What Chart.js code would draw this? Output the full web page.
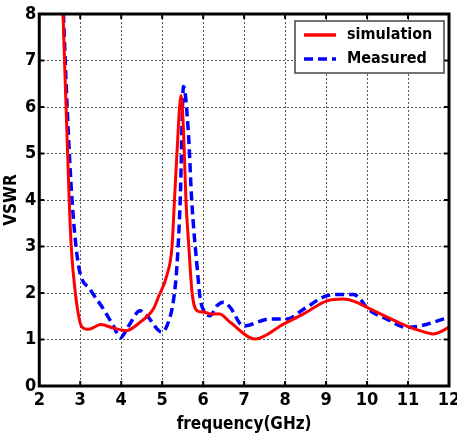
<!DOCTYPE html>
<html>
<head>
<meta charset="utf-8">
<script src="https://cdn.jsdelivr.net/npm/chart.js@4.4.1/dist/chart.umd.min.js"></script>
<style>
  html, body { margin: 0; padding: 0; background: #fff; }
  #wrap { width: 457px; height: 435px; }
</style>
</head>
<body>
<div id="wrap"><canvas id="vswrChart" width="457" height="435"></canvas></div>
<script>
// VSWR vs frequency
const simFreq = [2.58, 2.73, 2.78, 2.88, 3.04, 3.2, 3.5, 3.8, 4.12, 4.46, 4.78, 4.92, 5.11, 5.24, 5.3, 5.36, 5.46, 5.52, 5.58, 5.65, 5.73, 5.85, 6.0, 6.2, 6.4, 6.66, 7.27, 7.96, 8.45, 9.02, 9.42, 9.75, 10.0, 10.97, 11.29, 11.61, 11.85, 12.0];
const simVswr = [8.0, 4.0, 3.0, 2.0, 1.27, 1.22, 1.32, 1.25, 1.19, 1.37, 1.65, 1.94, 2.37, 3.0, 4.0, 5.0, 6.25, 5.5, 4.0, 3.0, 2.0, 1.62, 1.59, 1.55, 1.55, 1.37, 1.01, 1.33, 1.55, 1.83, 1.87, 1.8, 1.69, 1.29, 1.19, 1.12, 1.19, 1.27];

const measFreq = [2.59, 2.68, 2.8, 2.96, 3.24, 3.57, 3.81, 3.98, 4.18, 4.46, 4.63, 4.99, 5.15, 5.28, 5.36, 5.44, 5.52, 5.64, 5.72, 5.85, 5.93, 6.05, 6.17, 6.33, 6.5, 6.66, 6.98, 7.63, 8.04, 8.45, 9.02, 9.42, 9.67, 10.07, 10.48, 10.97, 11.29, 11.61, 12.0];
const measVswr = [8.0, 6.0, 4.0, 2.58, 2.08, 1.65, 1.29, 1.04, 1.29, 1.62, 1.51, 1.16, 1.37, 1.87, 2.58, 4.0, 6.44, 5.44, 4.0, 2.58, 1.87, 1.58, 1.51, 1.72, 1.8, 1.69, 1.29, 1.44, 1.44, 1.65, 1.94, 1.97, 1.97, 1.62, 1.44, 1.26, 1.29, 1.37, 1.48];

const xTicks = [2, 3, 4, 5, 6, 7, 8, 9, 10, 11, 12];
const yTicks = [0, 1, 2, 3, 4, 5, 6, 7, 8];

const toPoints = (xs, ys) => xs.map((x, i) => ({ x: x, y: ys[i] }));

const fontFamily = '"DejaVu Sans Condensed", "Liberation Sans", sans-serif';
const tickFont = { family: fontFamily, size: 18, weight: 'bold', lineHeight: 1.0 };
const titleFont = { family: fontFamily, size: 17, weight: 'bold', lineHeight: 1.0 };

// black frame, inward tick marks on all four sides, legend box top right
const framePlugin = {
    id: 'frame',
    afterDraw(chart) {
        const ctx = chart.ctx;
        const a = chart.chartArea;
        const xs = chart.scales.x, ys = chart.scales.y;
        ctx.save();
        ctx.strokeStyle = '#000';
        ctx.lineWidth = 2;
        ctx.beginPath();
        xTicks.forEach(v => {
            const px = xs.getPixelForValue(v);
            ctx.moveTo(px, a.bottom); ctx.lineTo(px, a.bottom - 5);
            ctx.moveTo(px, a.top); ctx.lineTo(px, a.top + 5);
        });
        yTicks.forEach(v => {
            const py = ys.getPixelForValue(v);
            ctx.moveTo(a.left, py); ctx.lineTo(a.left + 5, py);
            ctx.moveTo(a.right, py); ctx.lineTo(a.right - 5, py);
        });
        ctx.stroke();
        ctx.lineWidth = 3;
        ctx.strokeRect(a.left, a.top, a.right - a.left, a.bottom - a.top);

        // legend
        const bx = a.right - 154, by = a.top + 7, bw = 149, bh = 52;
        ctx.fillStyle = '#fff';
        ctx.fillRect(bx, by, bw, bh);
        ctx.lineWidth = 1.5;
        ctx.strokeStyle = '#444';
        ctx.strokeRect(bx, by, bw, bh);
        ctx.font = 'bold 16px ' + fontFamily;
        ctx.textBaseline = 'middle';
        chart.data.datasets.forEach((ds, i) => {
            const y = by + 14 + i * 24;
            ctx.strokeStyle = ds.borderColor;
            ctx.lineWidth = 3.5;
            ctx.setLineDash(ds.borderDash || []);
            ctx.beginPath();
            ctx.moveTo(bx + 9, y);
            ctx.lineTo(bx + 41, y);
            ctx.stroke();
            ctx.setLineDash([]);
            ctx.fillStyle = '#000';
            ctx.fillText(ds.label, bx + 52, y);
        });
        ctx.restore();
    }
};

const ctx = document.getElementById('vswrChart').getContext('2d');
const vswrChart = new Chart(ctx, {
    type: 'line',
    data: {
        datasets: [{
            label: 'simulation',
            data: toPoints(simFreq, simVswr),
            borderColor: '#ff0000',
            borderWidth: 3,
            pointRadius: 0,
            cubicInterpolationMode: 'monotone'
        }, {
            label: 'Measured',
            data: toPoints(measFreq, measVswr),
            borderColor: '#0000ff',
            borderWidth: 3.5,
            borderDash: [9, 5],
            pointRadius: 0,
            cubicInterpolationMode: 'monotone'
        }]
    },
    options: {
        responsive: false,
        animation: false,
        layout: { padding: { top: 14, right: 8, left: 0, bottom: 2 } },
        plugins: {
            legend: { display: false },
            tooltip: { enabled: false }
        },
        scales: {
            x: {
                type: 'linear',
                min: 2,
                max: 12,
                afterBuildTicks: (axis) => { axis.ticks = xTicks.map(v => ({ value: v })); },
                afterFit: (axis) => { axis.paddingRight = 0; axis.paddingLeft = 0; },
                ticks: { color: '#000', font: tickFont, padding: 5, maxRotation: 0 },
                grid: { color: '#555', lineWidth: 1, drawTicks: false },
                border: { display: false, dash: [2, 2] },
                title: {
                    display: true,
                    text: 'frequency(GHz)',
                    color: '#000',
                    font: titleFont,
                    padding: { top: 2, bottom: 0 }
                }
            },
            y: {
                min: 0,
                max: 8,
                afterBuildTicks: (axis) => { axis.ticks = yTicks.map(v => ({ value: v })); },
                afterFit: (axis) => { axis.paddingTop = 0; axis.paddingBottom = 0; },
                ticks: { color: '#000', font: tickFont, padding: 3 },
                grid: { color: '#555', lineWidth: 1, drawTicks: false },
                border: { display: false, dash: [2, 2] },
                title: {
                    display: true,
                    text: 'VSWR',
                    color: '#000',
                    font: titleFont,
                    padding: { top: 3, bottom: 2 }
                }
            }
        }
    },
    plugins: [framePlugin]
});
</script>
</body>
</html>
